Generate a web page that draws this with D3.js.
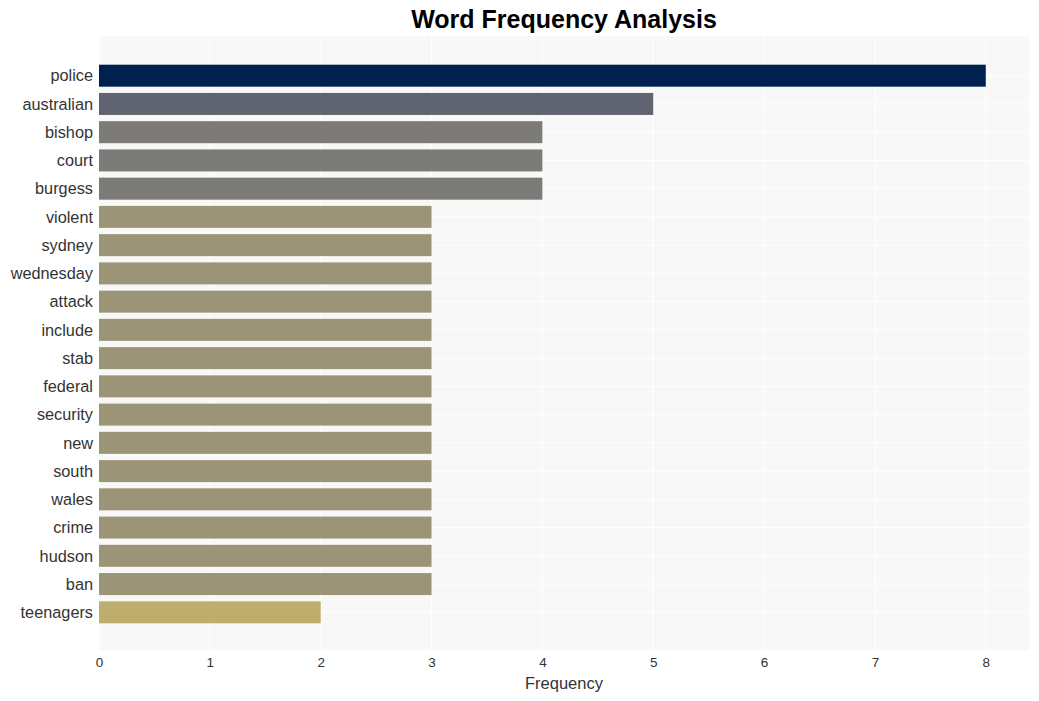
<!DOCTYPE html>
<html><head><meta charset="utf-8">
<script src="https://cdn.jsdelivr.net/npm/d3@7"></script>
<style>body{margin:0;background:#fff}svg{display:block}text{font-family:"Liberation Sans",Arial,sans-serif}</style>
</head><body>
<svg id="c" width="1039" height="701"></svg>
<script>
const words = ["police","australian","bishop","court","burgess","violent","sydney","wednesday","attack","include","stab","federal","security","new","south","wales","crime","hudson","ban","teenagers"];
const counts = [8,5,4,4,4,3,3,3,3,3,3,3,3,3,3,3,3,3,3,2];
const xTicks = [0,1,2,3,4,5,6,7,8];
const colorByCount = {8:"#00204f",5:"#5f6470",4:"#7c7b78",3:"#9b9477",2:"#bdae6e"};

const svg = d3.select("#c");
const L=99,R=1029,T=36,B=650;
const x = d3.scaleLinear().domain([0,8.39]).range([L,R]);
const y = d3.scalePoint().domain(words).range([T+1,B+1]).padding(1.37);
const bh = 22;

svg.append("rect").attr("x",L).attr("y",T).attr("width",R-L).attr("height",B-T).attr("fill","#f8f8f8");
svg.append("g").selectAll("line").data(xTicks).join("line")
  .attr("x1",d=>x(d)).attr("x2",d=>x(d)).attr("y1",T).attr("y2",B)
  .attr("stroke","#fff").attr("stroke-width",1);
svg.append("g").selectAll("line").data(words).join("line")
  .attr("x1",L).attr("x2",R).attr("y1",d=>y(d)).attr("y2",d=>y(d))
  .attr("stroke","#fff").attr("stroke-width",1);

svg.append("g").selectAll("rect").data(words).join("rect")
  .attr("x",x(0)).attr("y",d=>y(d)-bh/2).attr("height",bh)
  .attr("width",(d,i)=>x(counts[i])-x(0))
  .attr("fill",(d,i)=>colorByCount[counts[i]]);

const xa = svg.append("g").attr("transform",`translate(0,${B})`)
  .call(d3.axisBottom(x).tickValues(xTicks).tickSize(0).tickPadding(7).tickFormat(d3.format("d")));
xa.select(".domain").remove();
xa.selectAll("text").attr("font-size",13.5).attr("fill","#333").style("font-family",'"Liberation Sans",Arial,sans-serif');

const ya = svg.append("g").attr("transform",`translate(${L},0)`)
  .call(d3.axisLeft(y).tickSize(0).tickPadding(6));
ya.select(".domain").remove();
ya.selectAll("text").attr("font-size",16.3).attr("fill","#333").style("font-family",'"Liberation Sans",Arial,sans-serif');

svg.append("text").attr("x",(L+R)/2).attr("y",689).attr("text-anchor","middle")
  .attr("font-size",16.5).attr("fill","#333").text("Frequency");
svg.append("text").attr("x",(L+R)/2).attr("y",28).attr("text-anchor","middle")
  .attr("font-size",25).attr("font-weight","bold").attr("fill","#000").text("Word Frequency Analysis");
</script>
</body></html>
